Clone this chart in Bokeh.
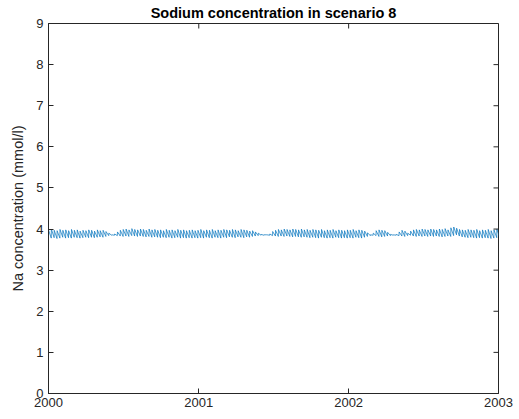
import numpy as np
import pandas as pd
from bokeh.plotting import figure
from bokeh.models import FixedTicker, DatetimeTickFormatter, Range1d, ColumnDataSource
from bokeh.embed import file_html
from bokeh.resources import INLINE

# Weekly sodium cycles: concentration right after each weekly input (peak)
# and just before the next one (trough), mmol/l
start_date = "2000-01-01"
peak_na = [
    3.98, 4.00, 3.97, 3.96, 3.99, 3.97, 3.98, 3.96, 3.99, 3.97, 3.98, 3.95, 3.97,
    3.96, 3.98, 3.97, 3.95, 3.98, 3.96, 3.97, 3.94, 3.90, 3.86, 3.88, 3.93, 3.97,
    3.99, 4.00, 3.98, 4.01, 3.99, 3.98, 4.00, 3.99, 3.97, 4.00, 3.98, 3.99, 3.97,
    3.98, 3.96, 3.99, 3.97, 3.98, 3.96, 3.99, 3.97, 3.98, 3.96, 3.97, 3.98, 3.96,
    3.97, 3.99, 3.96, 3.98, 3.97, 3.99, 3.96, 3.98, 3.97, 3.99, 3.98, 3.97, 3.99,
    3.98, 3.96, 3.99, 3.98, 3.97, 3.95, 3.96, 3.93, 3.90, 3.87, 3.86, 3.86, 3.88,
    3.94, 3.97, 3.99, 3.98, 4.00, 3.99, 3.98, 4.00, 3.99, 3.98, 4.00, 3.98, 3.99,
    3.97, 3.99, 3.98, 3.97, 3.99, 3.96, 3.98, 3.97, 3.99, 3.96, 3.98, 3.97, 3.96,
    3.98, 3.97, 3.99, 3.96, 3.98, 3.97, 3.95, 3.91, 3.86, 3.90, 3.96, 3.98, 3.97,
    3.96, 3.92, 3.87, 3.86, 3.87, 3.93, 3.97, 3.95, 3.90, 3.95, 3.98, 3.99, 3.98,
    4.00, 3.99, 3.98, 4.00, 3.99, 3.98, 4.00, 3.99, 4.01, 3.98, 4.03, 4.05, 4.02,
    3.99, 3.98, 3.97, 3.99, 3.98, 3.97, 3.99, 3.96, 3.98, 3.97, 3.99, 3.96, 3.98,
    4.00,
]
trough_na = [
    3.78, 3.79, 3.77, 3.78, 3.80, 3.78, 3.79, 3.78, 3.80, 3.79, 3.78, 3.79, 3.80,
    3.79, 3.80, 3.79, 3.80, 3.81, 3.80, 3.82, 3.84, 3.85, 3.85, 3.84, 3.83, 3.82,
    3.83, 3.82, 3.84, 3.83, 3.82, 3.83, 3.82, 3.81, 3.82, 3.80, 3.81, 3.80, 3.79,
    3.80, 3.79, 3.80, 3.78, 3.79, 3.80, 3.78, 3.79, 3.78, 3.79, 3.78, 3.79, 3.78,
    3.79, 3.78, 3.80, 3.79, 3.78, 3.80, 3.79, 3.78, 3.80, 3.79, 3.81, 3.80, 3.79,
    3.81, 3.80, 3.79, 3.81, 3.80, 3.82, 3.83, 3.84, 3.85, 3.85, 3.86, 3.85, 3.84,
    3.83, 3.82, 3.83, 3.82, 3.83, 3.82, 3.81, 3.82, 3.81, 3.80, 3.81, 3.80, 3.79,
    3.80, 3.79, 3.78, 3.80, 3.79, 3.78, 3.79, 3.78, 3.80, 3.79, 3.78, 3.79, 3.78,
    3.79, 3.78, 3.80, 3.79, 3.78, 3.80, 3.82, 3.84, 3.85, 3.84, 3.82, 3.81, 3.82,
    3.83, 3.84, 3.85, 3.85, 3.84, 3.83, 3.82, 3.84, 3.85, 3.83, 3.82, 3.83, 3.82,
    3.83, 3.82, 3.83, 3.82, 3.83, 3.82, 3.81, 3.82, 3.83, 3.82, 3.84, 3.86, 3.83,
    3.81, 3.80, 3.79, 3.80, 3.79, 3.78, 3.79, 3.78, 3.79, 3.78, 3.77, 3.78, 3.79,
    3.80,
]
year_ticks = ["2000-01-01", "2001-01-01", "2002-01-01", "2003-01-01"]
y_ticks = [0, 1, 2, 3, 4, 5, 6, 7, 8, 9]

# Build the sawtooth: each week jumps to its peak, then decays to its trough
t0 = pd.Timestamp(start_date)
times, values = [], []
for i, (pk, tr) in enumerate(zip(peak_na, trough_na)):
    times.append(t0 + pd.Timedelta(days=7 * i))
    values.append(pk)
    times.append(t0 + pd.Timedelta(days=7 * i + 6.7))
    values.append(tr)
src = ColumnDataSource(dict(t=times, na=values))

tick_ms = [pd.Timestamp(d).value / 1e6 for d in year_ticks]
x0, x1 = tick_ms[0], tick_ms[-1]
y0, y1 = y_ticks[0], y_ticks[-1]

FONT = "Liberation Sans"
TXT = "#262626"
AX = "#262626"

p = figure(width=519, height=419, x_axis_type="datetime",
           output_backend="svg", toolbar_location=None,
           x_range=Range1d(x0, x1), y_range=Range1d(y0, y1),
           min_border_left=48, min_border_right=21,
           min_border_top=10, min_border_bottom=26)

p.line("t", "na", source=src, line_color="#0072BD", line_width=0.7)

# Mirrored inward ticks on the top and right edges of the box
p.ray(x=tick_ms, y=[y1] * len(tick_ms), length=5, length_units="screen",
      angle=-np.pi / 2, line_color=AX, line_width=1)
p.ray(x=[x1] * len(y_ticks), y=y_ticks, length=5, length_units="screen",
      angle=np.pi, line_color=AX, line_width=1)

p.title.text = "Sodium concentration in scenario 8"
p.title.text_font = FONT
p.title.text_font_size = "14.5px"
p.title.text_font_style = "bold"
p.title.text_color = "#000000"
p.title.align = "center"
p.title.standoff = 5

p.grid.visible = False
p.background_fill_color = "white"
p.border_fill_color = "white"
p.outline_line_color = AX
p.outline_line_width = 1

fmt = DatetimeTickFormatter(years="%Y", months="%Y", days="%Y")


def style_axis(ax):
    ax.axis_line_color = AX
    ax.major_tick_line_color = AX
    ax.major_tick_in = 5
    ax.major_tick_out = 0
    ax.minor_tick_in = 0
    ax.minor_tick_out = 0
    ax.major_label_text_font = FONT
    ax.major_label_text_color = TXT
    ax.major_label_text_font_size = "13px"
    ax.major_label_standoff = 4


xa = p.xaxis[0]
xa.ticker = FixedTicker(ticks=tick_ms)
xa.formatter = fmt
style_axis(xa)

ya = p.yaxis[0]
ya.ticker = FixedTicker(ticks=y_ticks)
style_axis(ya)
ya.major_label_standoff = 5
ya.axis_label = "Na concentration (mmol/l)"
ya.axis_label_text_font = FONT
ya.axis_label_text_font_size = "14.5px"
ya.axis_label_text_font_style = "normal"
ya.axis_label_text_color = TXT
ya.axis_label_standoff = 7

open("out.html", "w").write(file_html(p, INLINE))
